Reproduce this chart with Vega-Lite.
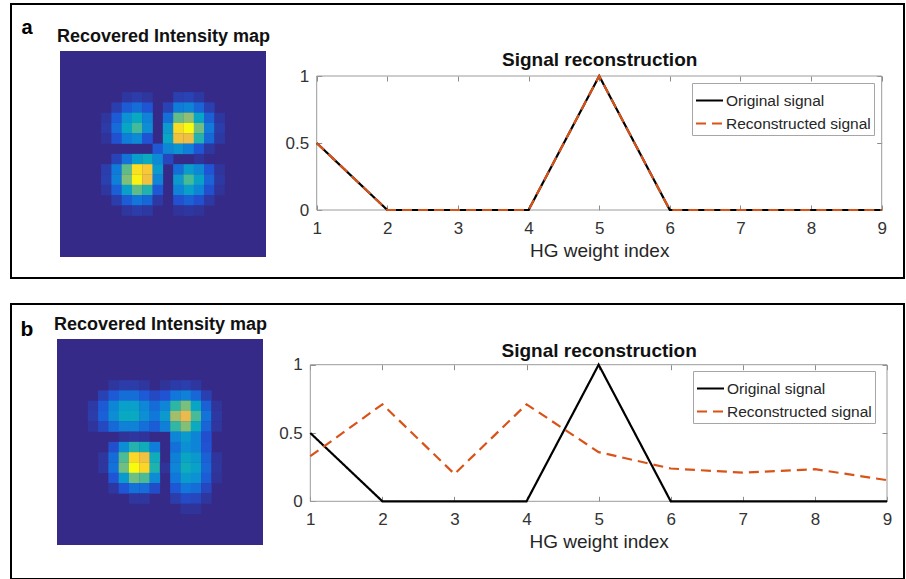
{
  "$schema": "https://vega.github.io/schema/vega-lite/v6.json",
  "background": "white",
  "padding": {"left": 10, "top": 3, "right": 0, "bottom": 0},
  "spacing": 24,
  "config": {
    "font": "Liberation Sans",
    "axis": {"grid": false, "domain": false, "labelFont": "Liberation Sans", "titleFont": "Liberation Sans", "labelColor": "#333333", "titleColor": "#262626", "tickColor": "#8c8c8c", "labelFlush": false, "labelOverlap": false},
    "legend": {"labelFont": "Liberation Sans"}
  },
  "vconcat": [
    {
      "width": 893, "height": 274,
      "view": {"stroke": "#000000", "strokeWidth": 2},
      "resolve": {"scale": {"x": "independent", "y": "independent", "color": "independent", "strokeDash": "independent"}, "axis": {"x": "independent", "y": "independent"}, "legend": {"color": "independent", "strokeDash": "independent"}},
      "layer": [
        {
          "data": {"values": [{}]},
          "mark": {"type": "rect", "color": "#352a87"},
          "encoding": {
            "x": {"datum": -0.5, "type": "quantitative", "scale": {"domain": [-0.5, 19.5], "range": [49, 255], "nice": false, "zero": false},
              "axis": {"orient": "top", "title": "Recovered Intensity map", "labels": false, "ticks": false, "titleFontSize": 18, "titleFontWeight": "bold", "titleColor": "#111111", "titleBaseline": "alphabetic", "titleY": 37}},
            "x2": {"datum": 19.5},
            "y": {"datum": -0.5, "type": "quantitative", "scale": {"domain": [-0.5, 19.5], "range": [47, 253], "nice": false, "zero": false},
              "axis": {"orient": "left", "title": "a", "labels": false, "ticks": false, "titleAngle": 0, "titleFontSize": 20, "titleFontWeight": "bold", "titleColor": "#000000", "titleAlign": "left", "titleBaseline": "alphabetic", "titleX": 10, "titleY": 29}},
            "y2": {"datum": 19.5}
          }
        },
        {
          "data": {"values": [
            {"i":6,"j":4,"v":0.029},{"i":7,"j":4,"v":0.041},{"i":8,"j":4,"v":0.026},{"i":11,"j":4,"v":0.046},{"i":12,"j":4,"v":0.054},{"i":13,"j":4,"v":0.033},
            {"i":5,"j":5,"v":0.045},{"i":6,"j":5,"v":0.112},{"i":7,"j":5,"v":0.158},{"i":8,"j":5,"v":0.098},{"i":10,"j":5,"v":0.054},{"i":11,"j":5,"v":0.194},{"i":12,"j":5,"v":0.224},{"i":13,"j":5,"v":0.135},{"i":14,"j":5,"v":0.049},
            {"i":4,"j":6,"v":0.027},{"i":5,"j":6,"v":0.109},{"i":6,"j":6,"v":0.269},{"i":7,"j":6,"v":0.373},{"i":8,"j":6,"v":0.221},{"i":10,"j":6,"v":0.159},{"i":11,"j":6,"v":0.521},{"i":12,"j":6,"v":0.586},{"i":13,"j":6,"v":0.35},{"i":14,"j":6,"v":0.126},{"i":15,"j":6,"v":0.029},
            {"i":4,"j":7,"v":0.038},{"i":5,"j":7,"v":0.149},{"i":6,"j":7,"v":0.361},{"i":7,"j":7,"v":0.482},{"i":8,"j":7,"v":0.257},{"i":10,"j":7,"v":0.3},{"i":11,"j":7,"v":0.857},{"i":12,"j":7,"v":0.922},{"i":13,"j":7,"v":0.539},{"i":14,"j":7,"v":0.191},{"i":15,"j":7,"v":0.043},
            {"i":4,"j":8,"v":0.023},{"i":5,"j":8,"v":0.088},{"i":6,"j":8,"v":0.203},{"i":7,"j":8,"v":0.243},{"i":8,"j":8,"v":0.092},{"i":10,"j":8,"v":0.351},{"i":11,"j":8,"v":0.775},{"i":12,"j":8,"v":0.763},{"i":13,"j":8,"v":0.426},{"i":14,"j":8,"v":0.147},{"i":15,"j":8,"v":0.033},
            {"i":9,"j":9,"v":0.104},{"i":10,"j":9,"v":0.23},{"i":11,"j":9,"v":0.279},{"i":12,"j":9,"v":0.206},{"i":13,"j":9,"v":0.097},{"i":14,"j":9,"v":0.03},
            {"i":5,"j":10,"v":0.057},{"i":6,"j":10,"v":0.169},{"i":7,"j":10,"v":0.323},{"i":8,"j":10,"v":0.377},{"i":9,"j":10,"v":0.245},{"i":10,"j":10,"v":0.066},{"i":13,"j":10,"v":0.021},
            {"i":4,"j":11,"v":0.044},{"i":5,"j":11,"v":0.187},{"i":6,"j":11,"v":0.515},{"i":7,"j":11,"v":0.865},{"i":8,"j":11,"v":0.805},{"i":9,"j":11,"v":0.304},{"i":11,"j":11,"v":0.156},{"i":12,"j":11,"v":0.315},{"i":13,"j":11,"v":0.237},{"i":14,"j":11,"v":0.096},{"i":15,"j":11,"v":0.024},
            {"i":4,"j":12,"v":0.05},{"i":5,"j":12,"v":0.208},{"i":6,"j":12,"v":0.559},{"i":7,"j":12,"v":0.902},{"i":8,"j":12,"v":0.773},{"i":9,"j":12,"v":0.225},{"i":11,"j":12,"v":0.3},{"i":12,"j":12,"v":0.486},{"i":13,"j":12,"v":0.339},{"i":14,"j":12,"v":0.133},{"i":15,"j":12,"v":0.032},
            {"i":4,"j":13,"v":0.029},{"i":5,"j":13,"v":0.122},{"i":6,"j":13,"v":0.325},{"i":7,"j":13,"v":0.514},{"i":8,"j":13,"v":0.422},{"i":9,"j":13,"v":0.106},{"i":11,"j":13,"v":0.219},{"i":12,"j":13,"v":0.328},{"i":13,"j":13,"v":0.222},{"i":14,"j":13,"v":0.086},{"i":15,"j":13,"v":0.02},
            {"i":5,"j":14,"v":0.043},{"i":6,"j":14,"v":0.114},{"i":7,"j":14,"v":0.179},{"i":8,"j":14,"v":0.143},{"i":9,"j":14,"v":0.032},{"i":11,"j":14,"v":0.087},{"i":12,"j":14,"v":0.126},{"i":13,"j":14,"v":0.084},{"i":14,"j":14,"v":0.032},
            {"i":6,"j":15,"v":0.026},{"i":7,"j":15,"v":0.04},{"i":8,"j":15,"v":0.031},{"i":11,"j":15,"v":0.021},{"i":12,"j":15,"v":0.03},{"i":13,"j":15,"v":0.02}
          ]},
          "mark": {"type": "square", "size": 112, "opacity": 1, "filled": true, "strokeWidth": 0},
          "encoding": {
            "x": {"field": "i", "type": "quantitative", "scale": {"domain": [-0.5, 19.5], "range": [49, 255], "nice": false, "zero": false}, "axis": null},
            "y": {"field": "j", "type": "quantitative", "scale": {"domain": [-0.5, 19.5], "range": [47, 253], "nice": false, "zero": false}, "axis": null},
            "color": {"field": "v", "type": "quantitative", "legend": null,
              "scale": {"domain": [0, 0.092, 0.184, 0.276, 0.368, 0.46, 0.552, 0.644, 0.736, 0.828, 0.92], "range": ["#352a87", "#2053d4", "#1079da", "#0c93d2", "#07a9c2", "#33b8a1", "#7cbf7b", "#b7bd64", "#e9b94e", "#fcce2e", "#f9fb0e"], "interpolate": "rgb", "clamp": true}}
          }
        },
        {
          "data": {"values": [{}]},
          "mark": {"type": "rect", "fill": "white", "fillOpacity": 0, "stroke": "#9b9b9b", "strokeWidth": 1},
          "encoding": {
            "x": {"datum": 1, "type": "quantitative", "scale": {"domain": [1, 9], "range": [305.7, 870.7], "nice": false, "zero": false},
              "axis": {"orient": "top", "offset": -72, "values": [1, 2, 3, 4, 5, 6, 7, 8, 9], "labels": false, "tickSize": -5, "title": "Signal reconstruction", "titleFontSize": 19, "titleFontWeight": "bold", "titleColor": "#111111", "titleBaseline": "alphabetic", "titleY": -10.7}},
            "x2": {"datum": 9},
            "y": {"datum": 0, "type": "quantitative", "scale": {"domain": [0, 1], "range": [206, 72], "nice": false, "zero": false},
              "axis": {"orient": "right", "offset": -22.3, "values": [0, 0.5, 1], "labels": false, "tickSize": -5, "title": null}},
            "y2": {"datum": 1}
          }
        },
        {
          "data": {"values": [
            {"x":1,"y":0.5,"s":"Original signal"},{"x":2,"y":0,"s":"Original signal"},{"x":3,"y":0,"s":"Original signal"},{"x":4,"y":0,"s":"Original signal"},{"x":5,"y":1,"s":"Original signal"},{"x":6,"y":0,"s":"Original signal"},{"x":7,"y":0,"s":"Original signal"},{"x":8,"y":0,"s":"Original signal"},{"x":9,"y":0,"s":"Original signal"},
            {"x":1,"y":0.5,"s":"Reconstructed signal"},{"x":2,"y":0,"s":"Reconstructed signal"},{"x":3,"y":0,"s":"Reconstructed signal"},{"x":4,"y":0,"s":"Reconstructed signal"},{"x":5,"y":1,"s":"Reconstructed signal"},{"x":6,"y":0,"s":"Reconstructed signal"},{"x":7,"y":0,"s":"Reconstructed signal"},{"x":8,"y":0,"s":"Reconstructed signal"},{"x":9,"y":0,"s":"Reconstructed signal"}
          ]},
          "mark": {"type": "line", "strokeWidth": 2.2},
          "encoding": {
            "x": {"field": "x", "type": "quantitative", "scale": {"domain": [1, 9], "range": [305.7, 870.7], "nice": false, "zero": false},
              "axis": {"orient": "bottom", "offset": -68, "values": [1, 2, 3, 4, 5, 6, 7, 8, 9], "tickSize": -5, "labelPadding": 28, "labelBaseline": "alphabetic", "labelFontSize": 17, "title": "HG weight index", "titleFontSize": 19, "titleFontWeight": "normal", "titleBaseline": "alphabetic", "titleY": 46}},
            "y": {"field": "y", "type": "quantitative", "scale": {"domain": [0, 1], "range": [206, 72], "nice": false, "zero": false},
              "axis": {"orient": "left", "offset": -305.7, "values": [0, 0.5, 1], "format": "~g", "tickSize": -5, "labelPadding": 13, "labelFontSize": 17, "title": null}},
            "color": {"field": "s", "type": "nominal", "scale": {"domain": ["Original signal", "Reconstructed signal"], "range": ["#000000", "#D95319"]},
              "legend": {"orient": "none", "legendX": 681, "legendY": 79, "title": null, "fillColor": "white", "strokeColor": "#a6a6a6", "padding": 3, "symbolType": "stroke", "symbolSize": 729, "symbolStrokeWidth": 2, "labelFontSize": 15.5, "labelColor": "#262626", "labelOffset": 2, "rowPadding": -8}},
            "strokeDash": {"field": "s", "type": "nominal", "scale": {"domain": ["Original signal", "Reconstructed signal"], "range": [[1, 0], [10, 6]]},
              "legend": {"orient": "none", "legendX": 681, "legendY": 79, "title": null, "fillColor": "white", "strokeColor": "#a6a6a6", "padding": 3, "symbolType": "stroke", "symbolSize": 729, "symbolStrokeWidth": 2, "labelFontSize": 15.5, "labelColor": "#262626", "labelOffset": 2, "rowPadding": -8}}
          }
        }
      ]
    },
    {
      "width": 893, "height": 275,
      "view": {"stroke": "#000000", "strokeWidth": 2},
      "resolve": {"scale": {"x": "independent", "y": "independent", "color": "independent", "strokeDash": "independent"}, "axis": {"x": "independent", "y": "independent"}, "legend": {"color": "independent", "strokeDash": "independent"}},
      "layer": [
        {
          "data": {"values": [{}]},
          "mark": {"type": "rect", "color": "#352a87"},
          "encoding": {
            "x": {"datum": -0.5, "type": "quantitative", "scale": {"domain": [-0.5, 19.5], "range": [46, 252], "nice": false, "zero": false},
              "axis": {"orient": "top", "title": "Recovered Intensity map", "labels": false, "ticks": false, "titleFontSize": 18, "titleFontWeight": "bold", "titleColor": "#111111", "titleBaseline": "alphabetic", "titleY": 25.7}},
            "x2": {"datum": 19.5},
            "y": {"datum": -0.5, "type": "quantitative", "scale": {"domain": [-0.5, 19.5], "range": [35, 241], "nice": false, "zero": false},
              "axis": {"orient": "left", "title": "b", "labels": false, "ticks": false, "titleAngle": 0, "titleFontSize": 21, "titleFontWeight": "bold", "titleColor": "#000000", "titleAlign": "left", "titleBaseline": "alphabetic", "titleX": 9, "titleY": 31}},
            "y2": {"datum": 19.5}
          }
        },
        {
          "data": {"values": [
            {"i":5,"j":4,"v":0.028},{"i":6,"j":4,"v":0.04},{"i":7,"j":4,"v":0.04},{"i":8,"j":4,"v":0.028},{"i":10,"j":4,"v":0.022},{"i":11,"j":4,"v":0.038},{"i":12,"j":4,"v":0.045},{"i":13,"j":4,"v":0.03},
            {"i":4,"j":5,"v":0.053},{"i":5,"j":5,"v":0.109},{"i":6,"j":5,"v":0.157},{"i":7,"j":5,"v":0.156},{"i":8,"j":5,"v":0.11},{"i":9,"j":5,"v":0.07},{"i":10,"j":5,"v":0.093},{"i":11,"j":5,"v":0.18},{"i":12,"j":5,"v":0.215},{"i":13,"j":5,"v":0.141},{"i":14,"j":5,"v":0.05},
            {"i":3,"j":6,"v":0.037},{"i":4,"j":6,"v":0.11},{"i":5,"j":6,"v":0.23},{"i":6,"j":6,"v":0.33},{"i":7,"j":6,"v":0.329},{"i":8,"j":6,"v":0.233},{"i":9,"j":6,"v":0.153},{"i":10,"j":6,"v":0.228},{"i":11,"j":6,"v":0.45},{"i":12,"j":6,"v":0.55},{"i":13,"j":6,"v":0.357},{"i":14,"j":6,"v":0.125},{"i":15,"j":6,"v":0.024},
            {"i":3,"j":7,"v":0.041},{"i":4,"j":7,"v":0.124},{"i":5,"j":7,"v":0.258},{"i":6,"j":7,"v":0.371},{"i":7,"j":7,"v":0.371},{"i":8,"j":7,"v":0.264},{"i":9,"j":7,"v":0.182},{"i":10,"j":7,"v":0.3},{"i":11,"j":7,"v":0.61},{"i":12,"j":7,"v":0.74},{"i":13,"j":7,"v":0.485},{"i":14,"j":7,"v":0.17},{"i":15,"j":7,"v":0.032},
            {"i":3,"j":8,"v":0.025},{"i":4,"j":8,"v":0.069},{"i":5,"j":8,"v":0.145},{"i":6,"j":8,"v":0.213},{"i":7,"j":8,"v":0.217},{"i":8,"j":8,"v":0.159},{"i":9,"j":8,"v":0.114},{"i":10,"j":8,"v":0.206},{"i":11,"j":8,"v":0.455},{"i":12,"j":8,"v":0.564},{"i":13,"j":8,"v":0.377},{"i":14,"j":8,"v":0.134},{"i":15,"j":8,"v":0.026},
            {"i":6,"j":9,"v":0.02},{"i":7,"j":9,"v":0.027},{"i":8,"j":9,"v":0.023},{"i":11,"j":9,"v":0.225},{"i":12,"j":9,"v":0.305},{"i":13,"j":9,"v":0.224},{"i":14,"j":9,"v":0.084},
            {"i":5,"j":10,"v":0.083},{"i":6,"j":10,"v":0.253},{"i":7,"j":10,"v":0.426},{"i":8,"j":10,"v":0.389},{"i":9,"j":10,"v":0.199},{"i":11,"j":10,"v":0.163},{"i":12,"j":10,"v":0.265},{"i":13,"j":10,"v":0.222},{"i":14,"j":10,"v":0.09},
            {"i":4,"j":11,"v":0.026},{"i":5,"j":11,"v":0.153},{"i":6,"j":11,"v":0.493},{"i":7,"j":11,"v":0.846},{"i":8,"j":11,"v":0.777},{"i":9,"j":11,"v":0.387},{"i":11,"j":11,"v":0.207},{"i":12,"j":11,"v":0.35},{"i":13,"j":11,"v":0.303},{"i":14,"j":11,"v":0.127},{"i":15,"j":11,"v":0.025},
            {"i":4,"j":12,"v":0.028},{"i":5,"j":12,"v":0.166},{"i":6,"j":12,"v":0.535},{"i":7,"j":12,"v":0.92},{"i":8,"j":12,"v":0.845},{"i":9,"j":12,"v":0.421},{"i":10,"j":12,"v":0.02},{"i":11,"j":12,"v":0.226},{"i":12,"j":12,"v":0.385},{"i":13,"j":12,"v":0.335},{"i":14,"j":12,"v":0.14},{"i":15,"j":12,"v":0.028},
            {"i":5,"j":13,"v":0.097},{"i":6,"j":13,"v":0.311},{"i":7,"j":13,"v":0.535},{"i":8,"j":13,"v":0.492},{"i":9,"j":13,"v":0.246},{"i":11,"j":13,"v":0.178},{"i":12,"j":13,"v":0.308},{"i":13,"j":13,"v":0.269},{"i":14,"j":13,"v":0.113},{"i":15,"j":13,"v":0.022},
            {"i":5,"j":14,"v":0.03},{"i":6,"j":14,"v":0.097},{"i":7,"j":14,"v":0.166},{"i":8,"j":14,"v":0.152},{"i":9,"j":14,"v":0.078},{"i":11,"j":14,"v":0.101},{"i":12,"j":14,"v":0.179},{"i":13,"j":14,"v":0.156},{"i":14,"j":14,"v":0.065},
            {"i":7,"j":15,"v":0.028},{"i":8,"j":15,"v":0.026},{"i":11,"j":15,"v":0.041},{"i":12,"j":15,"v":0.074},{"i":13,"j":15,"v":0.065},{"i":14,"j":15,"v":0.027},
            {"i":12,"j":16,"v":0.022},{"i":13,"j":16,"v":0.02}
          ]},
          "mark": {"type": "square", "size": 112, "opacity": 1, "filled": true, "strokeWidth": 0},
          "encoding": {
            "x": {"field": "i", "type": "quantitative", "scale": {"domain": [-0.5, 19.5], "range": [46, 252], "nice": false, "zero": false}, "axis": null},
            "y": {"field": "j", "type": "quantitative", "scale": {"domain": [-0.5, 19.5], "range": [35, 241], "nice": false, "zero": false}, "axis": null},
            "color": {"field": "v", "type": "quantitative", "legend": null,
              "scale": {"domain": [0, 0.092, 0.184, 0.276, 0.368, 0.46, 0.552, 0.644, 0.736, 0.828, 0.92], "range": ["#352a87", "#2053d4", "#1079da", "#0c93d2", "#07a9c2", "#33b8a1", "#7cbf7b", "#b7bd64", "#e9b94e", "#fcce2e", "#f9fb0e"], "interpolate": "rgb", "clamp": true}}
          }
        },
        {
          "data": {"values": [{}]},
          "mark": {"type": "rect", "fill": "white", "fillOpacity": 0, "stroke": "#9b9b9b", "strokeWidth": 1},
          "encoding": {
            "x": {"datum": 1, "type": "quantitative", "scale": {"domain": [1, 9], "range": [299.3, 876], "nice": false, "zero": false},
              "axis": {"orient": "top", "offset": -60.7, "values": [1, 2, 3, 4, 5, 6, 7, 8, 9], "labels": false, "tickSize": -5, "title": "Signal reconstruction", "titleFontSize": 19, "titleFontWeight": "bold", "titleColor": "#111111", "titleBaseline": "alphabetic", "titleY": -8.4}},
            "x2": {"datum": 9},
            "y": {"datum": 0, "type": "quantitative", "scale": {"domain": [0, 1], "range": [197.3, 60.7], "nice": false, "zero": false},
              "axis": {"orient": "right", "offset": -17, "values": [0, 0.5, 1], "labels": false, "tickSize": -5, "title": null}},
            "y2": {"datum": 1}
          }
        },
        {
          "data": {"values": [
            {"x":1,"y":0.5,"s":"Original signal"},{"x":2,"y":0,"s":"Original signal"},{"x":3,"y":0,"s":"Original signal"},{"x":4,"y":0,"s":"Original signal"},{"x":5,"y":1,"s":"Original signal"},{"x":6,"y":0,"s":"Original signal"},{"x":7,"y":0,"s":"Original signal"},{"x":8,"y":0,"s":"Original signal"},{"x":9,"y":0,"s":"Original signal"},
            {"x":1,"y":0.33,"s":"Reconstructed signal"},{"x":2,"y":0.71,"s":"Reconstructed signal"},{"x":3,"y":0.2,"s":"Reconstructed signal"},{"x":4,"y":0.71,"s":"Reconstructed signal"},{"x":5,"y":0.36,"s":"Reconstructed signal"},{"x":6,"y":0.24,"s":"Reconstructed signal"},{"x":7,"y":0.21,"s":"Reconstructed signal"},{"x":8,"y":0.235,"s":"Reconstructed signal"},{"x":9,"y":0.155,"s":"Reconstructed signal"}
          ]},
          "mark": {"type": "line", "strokeWidth": 2.2},
          "encoding": {
            "x": {"field": "x", "type": "quantitative", "scale": {"domain": [1, 9], "range": [299.3, 876], "nice": false, "zero": false},
              "axis": {"orient": "bottom", "offset": -77.7, "values": [1, 2, 3, 4, 5, 6, 7, 8, 9], "tickSize": -5, "labelPadding": 28, "labelBaseline": "alphabetic", "labelFontSize": 17, "title": "HG weight index", "titleFontSize": 19, "titleFontWeight": "normal", "titleBaseline": "alphabetic", "titleY": 46}},
            "y": {"field": "y", "type": "quantitative", "scale": {"domain": [0, 1], "range": [197.3, 60.7], "nice": false, "zero": false},
              "axis": {"orient": "left", "offset": -299.3, "values": [0, 0.5, 1], "format": "~g", "tickSize": -5, "labelPadding": 13, "labelFontSize": 17, "title": null}},
            "color": {"field": "s", "type": "nominal", "scale": {"domain": ["Original signal", "Reconstructed signal"], "range": ["#000000", "#D95319"]},
              "legend": {"orient": "none", "legendX": 682, "legendY": 67, "title": null, "fillColor": "white", "strokeColor": "#a6a6a6", "padding": 3, "symbolType": "stroke", "symbolSize": 729, "symbolStrokeWidth": 2, "labelFontSize": 15.5, "labelColor": "#262626", "labelOffset": 2, "rowPadding": -8}},
            "strokeDash": {"field": "s", "type": "nominal", "scale": {"domain": ["Original signal", "Reconstructed signal"], "range": [[1, 0], [10, 6]]},
              "legend": {"orient": "none", "legendX": 682, "legendY": 67, "title": null, "fillColor": "white", "strokeColor": "#a6a6a6", "padding": 3, "symbolType": "stroke", "symbolSize": 729, "symbolStrokeWidth": 2, "labelFontSize": 15.5, "labelColor": "#262626", "labelOffset": 2, "rowPadding": -8}}
          }
        }
      ]
    }
  ]
}
